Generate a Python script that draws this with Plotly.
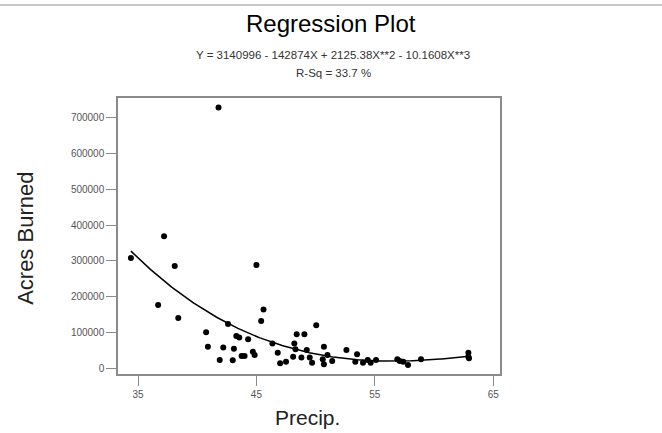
import numpy as np
import plotly.graph_objects as go

# Data
precip = [34.4, 36.7, 37.2, 38.1, 38.4, 40.75, 40.9, 41.8, 41.9, 42.2, 42.6, 43.0, 43.1,
          43.3, 43.55, 43.75, 44.0, 44.3, 44.7, 44.85, 45.0, 45.4, 45.6, 46.35, 46.8,
          47.0, 47.5, 48.1, 48.2, 48.3, 48.4, 48.8, 49.05, 49.25, 49.5, 49.7, 50.05,
          50.6, 50.7, 50.7, 51.0, 51.4, 52.6, 53.35, 53.5, 54.0, 54.4, 54.65, 55.1,
          56.9, 57.1, 57.4, 57.8, 58.9, 62.9, 62.9, 62.95]
acres = [308000, 177000, 369000, 286000, 141000, 101000, 61000, 728000, 24000, 59000,
         124000, 23000, 55000, 91000, 87000, 35000, 35000, 82000, 47000, 38000, 289000,
         133000, 165000, 70000, 44000, 15000, 19000, 33000, 70000, 54000, 96000, 31000,
         96000, 52000, 31000, 16000, 121000, 26000, 61000, 12000, 38000, 21000, 52000,
         19000, 40000, 16000, 24000, 16000, 24000, 26000, 21000, 19000, 10000, 26000,
         44000, 33000, 29000]

# Regression coefficients as printed on the chart (Y = b0 + b1 X + b2 X^2 + b3 X^3)
coefs = [3140996, -142874, 2125.38, -10.1608]
x_ticks = [35, 45, 55, 65]
y_ticks = [0, 100000, 200000, 300000, 400000, 500000, 600000, 700000]

title_text = "Regression Plot"
eq_text = "Y = 3140996 - 142874X + 2125.38X**2 - 10.1608X**3"
rsq_text = "R-Sq = 33.7 %"

xf = np.linspace(min(precip), max(precip), 200)
yf = sum(c * xf ** i for i, c in enumerate(coefs))

FONT = "Liberation Sans, Arial, sans-serif"

fig = go.Figure()
fig.add_trace(go.Scatter(x=xf, y=yf, mode="lines",
                         line=dict(color="black", width=1.5), hoverinfo="skip"))
fig.add_trace(go.Scatter(x=precip, y=acres, mode="markers",
                         marker=dict(color="black", size=6)))

axis_common = dict(showgrid=False, zeroline=False, showline=True, mirror=True,
                   linecolor="#8a8a8a", linewidth=1.5, ticks="outside", ticklen=10,
                   tickcolor="#8a8a8a", tickwidth=1.2,
                   tickfont=dict(family=FONT, size=10, color="#555555"))

fig.update_layout(
    width=662, height=433,
    margin=dict(l=118, r=162, t=98, b=59),
    paper_bgcolor="white", plot_bgcolor="white",
    showlegend=False,
    xaxis=dict(range=[33.31, 65.57], tickvals=x_ticks, ticktext=[str(v) for v in x_ticks],
               **axis_common),
    yaxis=dict(range=[-15050, 754400], tickvals=y_ticks, ticktext=[str(v) for v in y_ticks],
               **axis_common),
    annotations=[
        dict(text=title_text, x=0.5576, y=1.27, xref="paper", yref="paper",
             showarrow=False, xanchor="center", yanchor="middle",
             font=dict(family=FONT, size=24, color="black")),
        dict(text=eq_text, x=0.563, y=1.1558, xref="paper", yref="paper",
             showarrow=False, xanchor="center", yanchor="middle",
             font=dict(family=FONT, size=11.5, color="#333333")),
        dict(text=rsq_text, x=0.563, y=1.0906, xref="paper", yref="paper",
             showarrow=False, xanchor="center", yanchor="middle",
             font=dict(family=FONT, size=11.5, color="#333333")),
        dict(text="Acres Burned", x=-0.241, y=0.493, xref="paper", yref="paper",
             showarrow=False, textangle=-90, xanchor="center", yanchor="middle",
             font=dict(family=FONT, size=22, color="#222222")),
        dict(text="Precip.", x=0.497, y=-0.158, xref="paper", yref="paper",
             showarrow=False, xanchor="center", yanchor="middle",
             font=dict(family=FONT, size=21, color="#222222")),
    ],
    shapes=[dict(type="line", xref="paper", yref="paper", x0=-0.309, x1=1.424,
                 y0=1.337, y1=1.337, line=dict(color="#b5b5b5", width=1.5))],
)

fig.write_html("out.html", config={"displayModeBar": False},
               post_script="document.body.style.margin='0';")
